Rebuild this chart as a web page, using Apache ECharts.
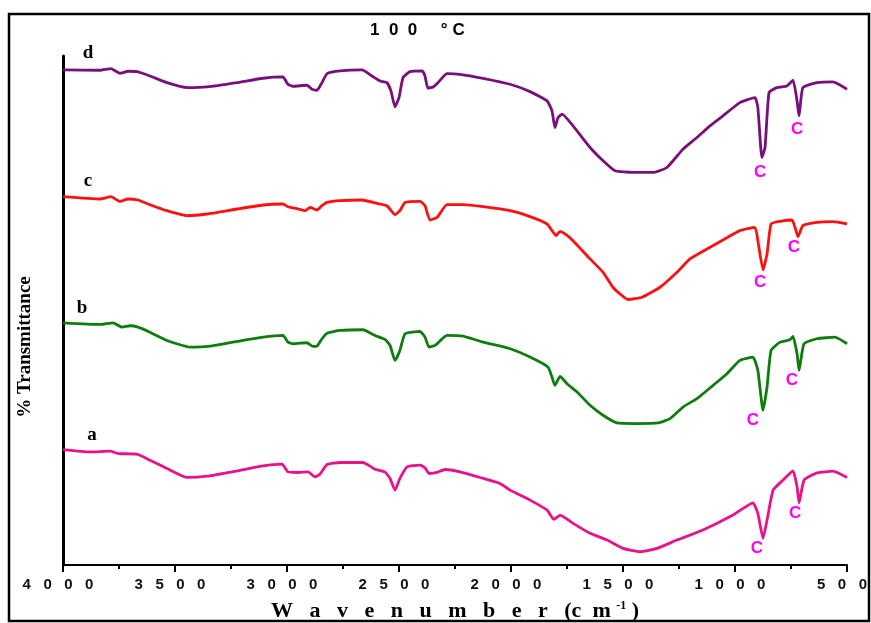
<!DOCTYPE html>
<html>
<head>
<meta charset="utf-8">
<script src="https://cdn.jsdelivr.net/npm/echarts@6/dist/echarts.min.js"></script>
<style>
html,body{margin:0;padding:0;background:#fff;}
#chart{width:871px;height:623px;}
</style>
</head>
<body>
<div id="chart"></div>
<script>
// Wavenumber (cm-1) vs % Transmittance (offset, arbitrary units)
const curveD = [[4000,496],[3835,495.7],[3786,497.3],[3746,492.7],[3710,494.7],[3670,494.3],[3612,490],[3536,483.3],[3446,478.3],[3357,479],[3223,483.3],[3107,487.7],[3018,489],[2996,481.7],[2973,479.7],[2911,480.7],[2888,476.7],[2866,475.7],[2844,483.3],[2821,492.3],[2763,495],[2665,496],[2621,490],[2585,485],[2554,483.3],[2536,475],[2518,459],[2500,468.3],[2482,488.3],[2451,494.3],[2397,495],[2384,490],[2371,477.7],[2348,479],[2326,483.3],[2286,492.3],[2228,491.7],[2125,487.7],[2004,481.7],[1915,474.3],[1839,465],[1817,455],[1804,438.3],[1790,448.3],[1772,451.7],[1723,440],[1647,418.3],[1589,405],[1536,395],[1455,393.3],[1366,393.3],[1304,398.3],[1232,416.7],[1170,428.3],[1112,440],[1054,450],[978,463.3],[911,468.3],[898,458.3],[880,408.3],[866,418.3],[848,473.3],[813,478.3],[768,480],[741,485.7],[723,465],[714,450],[697,478.3],[634,483.3],[563,484],[500,476.7]];
const curveC = [[4000,369],[3835,366.7],[3786,369],[3746,364.3],[3710,366.7],[3665,365.7],[3612,361],[3536,355],[3446,350],[3357,351.7],[3223,356.7],[3107,360.7],[3018,361.7],[2996,359],[2951,356.7],[2920,355],[2897,358.3],[2866,355.7],[2844,360],[2821,363.3],[2763,365],[2665,365.7],[2598,362.3],[2554,360],[2518,351],[2496,355],[2473,363.3],[2406,364.3],[2384,360],[2362,345.7],[2330,348.3],[2286,361],[2214,361],[2125,359],[2004,355],[1915,349],[1839,341.7],[1817,335],[1799,330],[1781,334.3],[1759,331.7],[1723,325],[1647,306.7],[1589,293.3],[1545,278.3],[1505,270],[1478,266],[1415,268.3],[1335,278.3],[1259,293.3],[1201,306.7],[1125,316.7],[1054,325.7],[978,335],[911,338.3],[898,325],[875,295.7],[857,311.7],[839,341.7],[799,344.3],[746,345.7],[732,338.3],[719,329],[697,340],[634,343.3],[563,344],[500,341.7]];
const curveB = [[4000,242.7],[3835,241],[3777,242.7],[3737,238.3],[3701,239.7],[3665,238.3],[3612,233.3],[3536,225],[3433,218.3],[3344,219.3],[3223,224],[3107,228.3],[3018,230],[2996,223.3],[2973,221.7],[2911,222.7],[2884,219],[2866,219.3],[2844,226.7],[2821,232.3],[2763,235],[2661,235.7],[2607,230],[2563,226],[2540,220],[2518,205],[2496,215],[2473,231.7],[2406,234],[2384,228.3],[2366,218.3],[2339,220],[2286,230],[2214,229.3],[2125,223.3],[2004,216.7],[1915,208.3],[1835,198.3],[1817,188.3],[1804,180],[1781,189],[1750,181.7],[1705,173.3],[1647,160],[1589,150],[1527,142.3],[1438,141.7],[1344,142.3],[1290,146.7],[1232,158.3],[1170,166.7],[1098,180],[1036,191.7],[978,205],[920,208.3],[898,195],[875,155],[857,178.3],[839,215],[799,223.3],[755,225.7],[741,229],[723,211.7],[714,195],[692,221.7],[634,226.7],[554,228.3],[500,221.7]];
const curveA = [[4000,115.7],[3880,113.3],[3790,114],[3754,111.7],[3670,111],[3612,105],[3536,96.7],[3446,87.7],[3357,89],[3223,94.3],[3107,99.3],[3022,101],[2996,93.3],[2955,92.7],[2906,93.3],[2875,88.3],[2853,91],[2821,100.7],[2763,102.7],[2661,102.7],[2607,96],[2563,93.3],[2540,86.7],[2518,75],[2496,86.7],[2464,98.3],[2406,100],[2384,97.3],[2366,91.7],[2330,92.7],[2295,95.7],[2228,93.3],[2138,87.7],[2049,81.7],[2004,75],[1915,65],[1839,55],[1808,45.7],[1781,50],[1723,41.7],[1647,31.7],[1571,25],[1500,16.7],[1424,13.3],[1348,16.7],[1259,25],[1143,35],[1009,50],[920,62.3],[898,51.7],[875,26.7],[857,45],[830,75],[786,85],[741,94.3],[723,78.3],[714,62.3],[692,85],[634,92.3],[563,94],[500,87.7]];

const seriesNames = ['a','b','c','d'];
const seriesColors = ['#E8128A','#0E7D0E','#FF1010','#7A0F7A'];
// curve letter label anchors [wavenumber, value]
const nameLabelPos = [[3871,126],[3915,253],[3888,381],[3888,509]];
// "C" annotation anchors [wavenumber, value] per curve
const cLabelPos = [
  [[902,17],[732,52]],
  [[920,145],[746,185]],
  [[888,283],[737,318]],
  [[888,393],[723,437]]
];
const xTicks = {min:500, max:4000, interval:500};

const curves = [curveA, curveB, curveC, curveD];
const chart = echarts.init(document.getElementById('chart'), null, {renderer:'canvas'});

const series = curves.map((c, i) => ({
  name: seriesNames[i],
  type: 'line',
  data: c,
  showSymbol: false,
  smooth: 0.15,
  clip: false,
  lineStyle: {color: seriesColors[i], width: 2.8},
  itemStyle: {color: seriesColors[i]},
  silent: true,
  markPoint: {
    symbol: 'circle', symbolSize: 0, silent: true,
    data: [
      {coord: nameLabelPos[i], value: seriesNames[i],
       label: {show: true, formatter: seriesNames[i], color: '#000', fontFamily: 'Liberation Serif', fontWeight: 'bold', fontSize: 19, position: 'inside', offset: [0, -4]}},
      ...cLabelPos[i].map(p => ({coord: p, value: 'C',
       label: {show: true, formatter: 'C', color: '#FF00FF', fontFamily: 'Liberation Sans', fontWeight: 'bold', fontSize: 17, position: 'inside'}}))
    ]
  }
}));

chart.setOption({
  backgroundColor: '#fff',
  animation: false,
  title: {
    text: '1  0  0     ° C',
    left: 365, top: 17,
    textStyle: {fontFamily: 'Liberation Sans', fontWeight: 'bold', fontSize: 17, color: '#000'}
  },
  grid: {left: 63, right: 24, top: 56, bottom: 58, containLabel: false, outerBoundsMode: 'none'},
  xAxis: {
    type: 'value', inverse: true,
    min: xTicks.min, max: xTicks.max, interval: xTicks.interval,
    axisLine: {show: true, onZero: false, lineStyle: {color: '#000', width: 2}},
    axisTick: {show: true, inside: false, length: 7, lineStyle: {color: '#000', width: 2}},
    minorTick: {show: true, splitNumber: 2, length: 4, lineStyle: {color: '#000', width: 2}},
    splitLine: {show: false},
    axisLabel: {
      margin: 12, color: '#111', fontFamily: 'Liberation Sans', fontWeight: 'bold', fontSize: 15,
      hideOverlap: false, padding: [0, 10, 0, 0],
      formatter: v => String(v).split('').join('   ')
    },
    name: '{a|W   a   v   e   n   u   m   b   e   r   (c  m }{s|-1}{a| )}',
    nameLocation: 'middle', nameGap: 35,
    nameTextStyle: {
      rich: {
        a: {fontFamily: 'Liberation Serif', fontWeight: 'bold', fontSize: 22, color: '#000'},
        s: {fontFamily: 'Liberation Serif', fontWeight: 'bold', fontSize: 12, color: '#000', verticalAlign: 'top', padding: [0,0,10,0]}
      }
    }
  },
  yAxis: {
    type: 'value', min: 0, max: 510,
    axisLine: {show: true, lineStyle: {color: '#000', width: 3}},
    axisTick: {show: false}, axisLabel: {show: false}, splitLine: {show: false}
  },
  graphic: [
    {type: 'rect', shape: {x: 9, y: 14, width: 860, height: 607}, style: {fill: 'none', stroke: '#000', lineWidth: 2.5}, silent: true},
    {type: 'text', x: 25, y: 347, rotation: Math.PI/2,
     style: {text: '% Transmittance', fontFamily: 'Liberation Serif', fontWeight: 'bold', fontSize: 19, fill: '#000', textAlign: 'center', textVerticalAlign: 'middle'}}
  ],
  series: series
});
</script>
</body>
</html>
